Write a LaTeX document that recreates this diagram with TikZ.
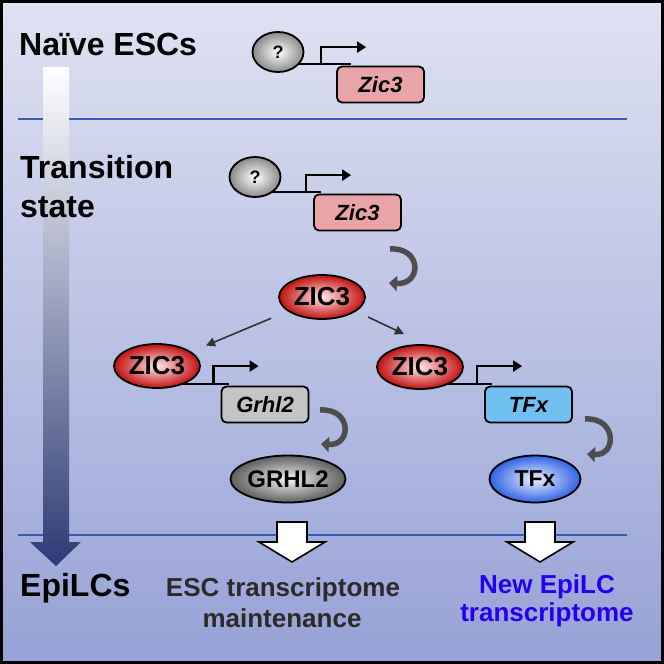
\documentclass[tikz,border=0pt]{standalone}
\usepackage{fontspec}
\setmainfont{Liberation Sans}
\usetikzlibrary{arrows.meta,shapes.geometric,calc}
\pgfdeclarelayer{bg}
\pgfsetlayers{bg,main}
\definecolor{bgtop}{HTML}{DFE2F2}
\definecolor{bgbot}{HTML}{96A2D6}
\definecolor{sepblue}{HTML}{3A5BB5}
\definecolor{navy}{HTML}{2C3B74}
\definecolor{zred}{HTML}{C21010}
\definecolor{zinner}{HTML}{FFEAEA}
\definecolor{qgray}{HTML}{8A8A8A}
\definecolor{gin}{HTML}{F4F4F4}
\definecolor{gout}{HTML}{5E5E5E}
\definecolor{tin}{HTML}{EEF3FF}
\definecolor{tout}{HTML}{2F62E4}
\definecolor{boxpink}{HTML}{E8A4A6}
\definecolor{boxgray}{HTML}{C4C4C4}
\definecolor{boxblue}{HTML}{70C0F2}
\definecolor{txtblue}{HTML}{2400EE}
\definecolor{txtgray}{HTML}{2B2B2B}
\definecolor{curv}{HTML}{4D4D4D}
\definecolor{dgray}{HTML}{333333}
\begin{document}
\begin{tikzpicture}[x=1pt,y=-1pt,
 stage/.style={font=\bfseries\fontsize{32}{36}\selectfont, anchor=base west, inner sep=0pt},
 prot/.style={ellipse, draw=black, line width=1.8pt, inner sep=0pt, font=\bfseries\fontsize{26}{26}\selectfont},
 zicp/.style={prot, minimum width=86pt, minimum height=44pt, inner color=zinner, outer color=zred},
 qp/.style={prot, minimum width=51pt, minimum height=40pt, inner color=white, outer color=qgray, font=\bfseries\fontsize{18}{18}\selectfont},
 grp/.style={prot, minimum width=90pt, minimum height=47pt, inner color=gin, outer color=gout, font=\bfseries\fontsize{24}{24}\selectfont},
 tfp/.style={prot, minimum width=91pt, minimum height=47pt, inner color=tin, outer color=tout, font=\bfseries\fontsize{23}{23}\selectfont},
 gene/.style={draw=black, line width=1.8pt, rounded corners=5pt, minimum width=87pt, minimum height=36pt, inner sep=0pt, font=\bfseries\itshape\fontsize{22}{22}\selectfont},
 dna/.style={line width=2.5pt, black},
 prom/.style={line width=2.5pt, black, -{Triangle[length=9pt,width=11pt]}},
 turn/.style={line width=5.5pt, curv, -{Triangle[length=8pt,width=15pt]}},
 diag/.style={line width=1.6pt, dgray, -{Triangle[length=9pt,width=9pt]}},
 sep/.style={line width=2.2pt, sepblue},
 bigwhite/.style={draw=black, line width=1.6pt, fill=white, line join=miter},
 outtxt/.style={font=\bfseries\fontsize{26}{26}\selectfont, anchor=base, inner sep=0pt},
]
\useasboundingbox (0,0) rectangle (664,664);
% nodes
\node[qp] (q1) at (278,52) {?};
\node[gene, fill=boxpink] (z1box) at (380.5,84.5) {Zic3};
\node[qp] (q2) at (255,177) {?};
\node[gene, fill=boxpink] (z2box) at (357.5,212.5) {Zic3};
\node[zicp] (zic) at (322,297) {ZIC3};
\node[zicp] (zl) at (157,366) {ZIC3};
\node[gene, fill=boxgray] (gbox) at (265,404.5) {Grhl2};
\node[grp] (grhl) at (288,479) {GRHL2};
\node[zicp] (zr) at (420,367) {ZIC3};
\node[gene, fill=boxblue] (tbox) at (528.5,404.5) {TFx};
\node[tfp] (tfx) at (535,479) {TFx};
% texts
\node[stage] (naive) at (19,55) {Naïve ESCs};
\node[stage] (trans) at (20,178) {Transition};
\node[stage] (state) at (20,217) {state};
\node[stage] (epi) at (20,596) {EpiLCs};
\node[outtxt, text=txtgray] (esc1) at (283,596) {ESC transcriptome};
\node[outtxt, text=txtgray] (esc2) at (282,627) {maintenance};
\node[outtxt, text=txtblue] (new1) at (547,593) {New EpiLC};
\node[outtxt, text=txtblue] (new2) at (547,621) {transcriptome};
% background layer
\begin{pgfonlayer}{bg}
\fill[top color=bgtop, bottom color=bgbot] (0,0) rectangle (664,664);
\draw[sep] (18,119) -- (627,119);
\draw[sep] (18,535) -- (627,535);
\coordinate (ba) at (56,67);
\shade[top color=white, bottom color=navy]
  ($(ba)+(-13,0)$) -- ($(ba)+(13,0)$) -- ($(ba)+(13,475)$) -- ($(ba)+(25,475)$)
  -- ($(ba)+(0,499)$) -- ($(ba)+(-26,475)$) -- ($(ba)+(-13,475)$) -- cycle;
% DNA baselines
\draw[dna] ($(q1.center |- z1box.north)+(0,-1.5)$) -- ($(z1box.north west)+(15,-1.5)$);
\draw[dna] ($(q2.center |- z2box.north)+(0,-1.5)$) -- ($(z2box.north west)+(8,-1.5)$);
\draw[dna] ($(zl.center |- gbox.north)+(0,-1.5)$) -- ($(gbox.north west)+(8,-1.5)$);
\draw[dna] ($(zr.center |- tbox.north)+(0,-1.5)$) -- ($(tbox.north west)+(8,-1.5)$);
\end{pgfonlayer}
% promoters
\draw[prom] ($(z1box.north west)+(-15,-1.5)$) -- ++(0,-17) -- ++(45,0);
\draw[prom] ($(z2box.north west)+(-7,-1.5)$) -- ++(0,-17) -- ++(45,0);
\draw[prom] ($(gbox.north west)+(-7,-1.5)$) -- ++(0,-18) -- ++(45,0);
\draw[prom] ($(tbox.north west)+(-7,-1.5)$) -- ++(0,-18) -- ++(45,0);
% turn arrows
\coordinate (t1s) at (390,249); \coordinate (t1e) at (389,283);
\draw[turn] (t1s) .. controls (422,247) and (422,285) .. (t1e);
\coordinate (t2s) at (320,410); \coordinate (t2e) at (321,444);
\draw[turn] (t2s) .. controls (352,408) and (352,446) .. (t2e);
\coordinate (t3s) at (585,419); \coordinate (t3e) at (587,454);
\draw[turn] (t3s) .. controls (617,417) and (617,456) .. (t3e);
% diagonal arrows
\draw[diag, shorten <=18pt, shorten >=16pt] (zic) -- (zl);
\coordinate (r1) at (368,317); \coordinate (r2) at (404,334);
\draw[diag] (r1) -- (r2);
% white block arrows
\coordinate (w1) at (292,522);
\draw[bigwhite] ($(w1)+(-15,0)$) -- ($(w1)+(15,0)$) -- ($(w1)+(15,20)$) -- ($(w1)+(33,20)$)
  -- ($(w1)+(0,40)$) -- ($(w1)+(-33,20)$) -- ($(w1)+(-15,20)$) -- cycle;
\coordinate (w2) at (540,522);
\draw[bigwhite] ($(w2)+(-15,0)$) -- ($(w2)+(15,0)$) -- ($(w2)+(15,20)$) -- ($(w2)+(33,20)$)
  -- ($(w2)+(0,40)$) -- ($(w2)+(-33,20)$) -- ($(w2)+(-15,20)$) -- cycle;
% frame
\draw[line width=3pt] (1.5,1.5) rectangle (662.5,662.5);
\end{tikzpicture}
\end{document}
